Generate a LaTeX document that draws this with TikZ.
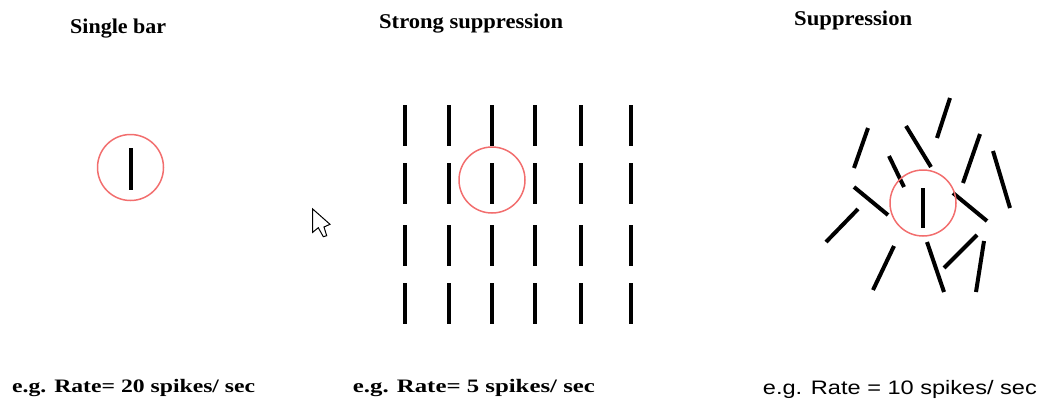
\documentclass[tikz,border=0pt]{standalone}
\usepackage{fontspec}
\setmainfont{Liberation Serif}
\setsansfont{Liberation Sans}
\usepackage{graphicx}
\usepackage{xcolor}
\definecolor{rfred}{RGB}{242,110,110}
% stretch a text sideways to a given width
\newcommand{\widetxt}[2]{\resizebox{#1}{\height}{#2}}

\begin{document}
\begin{tikzpicture}[
    x=1pt, y=-1pt,
    bar/.style={line width=4pt, black},
    field/.style={circle, draw=rfred, line width=1.5pt, minimum size=66pt, inner sep=0pt},
    title/.style={anchor=base west, inner sep=0pt, font=\fontsize{21}{24}\selectfont\bfseries},
    rate/.style={anchor=base west, inner sep=0pt, font=\fontsize{19}{22}\selectfont\bfseries}
]
    \useasboundingbox (0,0) rectangle (1041,400);

    % Titles
    \node[title] (t1) at (70,33) {\widetxt{96pt}{Single bar}};
    \node[title] (t2) at (379,28) {\widetxt{184pt}{Strong suppression}};
    \node[title] (t3) at (794,25) {\widetxt{118pt}{Suppression}};

    % Single bar
    \draw[bar] (131,148) -- (131,190);
    \node[field] (rf1) at (130.5,167.5) {};

    % Strong suppression: regular grid
    \foreach \x in {405,449.3,491.7,535,580.7,630.7}
        \foreach \y in {105,163,225,283}
            \draw[bar] (\x,\y) -- (\x,\y+41);
    \node[field] (rf2) at (492,180) {};

    % Suppression: random orientations
    \foreach \a/\b/\c/\d in {950/98/937/138, 868/128/854/168, 906/126/931/167,
        980/134/963/183, 993/151/1010/208, 889/156/904/187, 854/187/888/215,
        923/188/923/228, 953/193/987/221, 858/209/826/242, 894/246/873/290,
        927/242/944/292, 977/235/944/268, 984/241/976/292}
        \draw[bar] (\a,\b) -- (\c,\d);
    \node[field] (rf3) at (923,203) {};

    % Mouse pointer
    \draw[line width=1pt, fill=white, line join=miter]
        (312.7,209) -- (312.7,232.3) -- (318.3,227.7) -- (323.3,236.7)
        -- (326.7,235.7) -- (324,227) -- (330,224.3) -- cycle;

    % Rates
    \node[rate] (r1) at (12,392) {\widetxt{243pt}{e.g. Rate= 20 spikes/ sec}};
    \node[rate] (r2) at (352.7,392) {\widetxt{242pt}{e.g. Rate= 5 spikes/ sec}};
    \node[rate, font=\fontsize{19.5}{22}\selectfont\sffamily] (r3) at (762.7,394)
        {\widetxt{274pt}{e.g. Rate = 10 spikes/ sec}};
\end{tikzpicture}
\end{document}
